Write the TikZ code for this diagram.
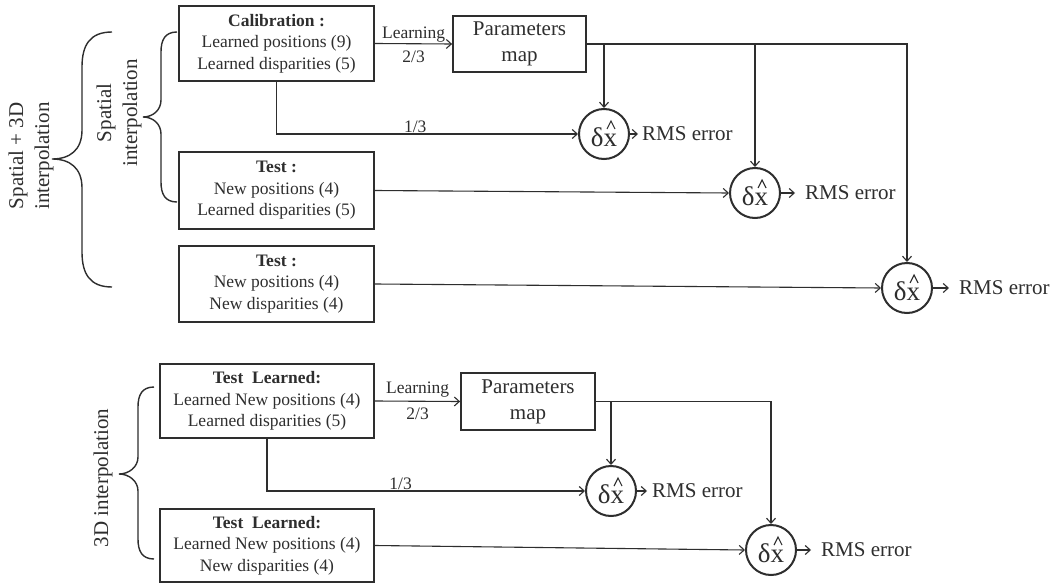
\documentclass[tikz,border=0pt]{standalone}
\usepackage{fontspec}
\setmainfont{Liberation Serif}
\usetikzlibrary{arrows.meta}
\definecolor{ink}{gray}{0.18}
\begin{document}
\begin{tikzpicture}[x=1pt,y=-1pt,
  every node/.style={text=ink},
  box/.style={draw=ink, line width=2.4pt, inner sep=0pt, align=center, font=\fontsize{17.5}{21.5}\selectfont},
  pbox/.style={draw=ink, line width=1.8pt, inner sep=0pt, align=center, font=\fontsize{21}{26}\selectfont},
  err/.style={draw=ink, line width=2pt, circle, minimum size=50pt, inner sep=0pt,
    text height=24pt, text depth=0pt, font=\fontsize{27}{30}\selectfont,
    path picture={\draw[ink, line width=1.1pt, line join=miter]
      ([shift={(3,-5)}]path picture bounding box.center) --
      ([shift={(7,-13)}]path picture bounding box.center) --
      ([shift={(11,-5)}]path picture bounding box.center);}},
  rms/.style={anchor=west, inner ysep=0pt, font=\fontsize{21}{24}\selectfont},
  lab/.style={font=\fontsize{17.5}{20}\selectfont, inner sep=1pt},
  conn/.style={draw=ink, line width=1.1pt, -{Straight Barb[length=5pt,width=9pt]}},
  brc/.style={draw=ink, line width=1.4pt},
  side/.style={rotate=90, align=center, inner sep=0pt, font=\fontsize{21}{26}\selectfont}
]
\useasboundingbox[fill=white] (0,0) rectangle (1054,586);

% ---------- upper part ----------
\node[box, minimum width=195, minimum height=75] (cal) at (276.5,43.5)
  {\textbf{Calibration :}\\Learned positions (9)\\Learned disparities (5)};
\node[box, minimum width=195, minimum height=77] (t1) at (276.5,190.5)
  {\textbf{Test :}\\New positions (4)\\Learned disparities (5)};
\node[box, minimum width=195, minimum height=76] (t2) at (276.5,284)
  {\textbf{Test :}\\New positions (4)\\New disparities (4)};
\node[pbox, minimum width=133, minimum height=56] (pm1) at (519.5,44) {Parameters\\map};
\node[err] (c1) at (604,134) {δx};
\node[err] (c2) at (755,193) {δx};
\node[err] (c3) at (907,288) {δx};
\node[rms, inner xsep=4pt] (r1) at ([xshift=8pt]c1.east) {RMS error};
\node[rms, inner xsep=10pt] (r2) at ([xshift=14pt]c2.east) {RMS error};
\node[rms, inner xsep=10pt] (r3) at ([xshift=16pt]c3.east) {RMS error};

\draw[conn] (cal.east) -- node[lab, above]{Learning} node[lab, below=6pt]{2/3} (pm1.west);
\draw[conn] (cal.south) |- node[lab, pos=0.73, above]{1/3} (c1.west);
\draw[conn] (pm1.east) -| (c3.north);
\draw[conn] (c1.north |- pm1.east) -- (c1.north);
\draw[conn] (c2.north |- pm1.east) -- (c2.north);
\draw[conn] (t1.east) -- (c2.west);
\draw[conn] (t2.east) -- (c3.west);
\draw[conn] (c1.east) -- (r1.west);
\draw[conn] (c2.east) -- (r2.west);
\draw[conn] (c3.east) -- (r3.west);

% braces upper
\draw[brc] (112,32) .. controls (90,32) and (82,45) .. (82,67) -- (82,130)
  .. controls (82,150) and (70,159) .. (52,159)
  .. controls (70,159) and (82,168) .. (82,188) -- (82,252)
  .. controls (82,274) and (90,287) .. (112,287);
\draw[brc] (177,32) .. controls (165,32) and (161,40) .. (161,52) -- (161,100)
  .. controls (161,110) and (153,117) .. (143,117)
  .. controls (153,117) and (161,124) .. (161,134) -- (161,182)
  .. controls (161,194) and (165,202) .. (177,202);
\node[side] (lout) at (31,156) {Spatial + 3D\\interpolation};
\node[side] (lin) at (119,113) {Spatial\\interpolation};

% ---------- lower part ----------
\node[box, minimum width=214, minimum height=74] (tl1) at (267,401)
  {\textbf{Test\ \ Learned:}\\Learned New positions (4)\\Learned disparities (5)};
\node[box, minimum width=214, minimum height=73] (tl2) at (267,545.5)
  {\textbf{Test\ \ Learned:}\\Learned New positions (4)\\New disparities (4)};
\node[pbox, minimum width=134, minimum height=57] (pm2) at (528,401.5) {Parameters\\map};
\node[err] (c4) at (611,491) {δx};
\node[err] (c5) at (771,550) {δx};
\node[rms, inner xsep=5pt] (r4) at ([xshift=10pt]c4.east) {RMS error};
\node[rms, inner xsep=10pt] (r5) at ([xshift=14pt]c5.east) {RMS error};

\draw[conn] (tl1.east) -- node[lab, above, yshift=2pt]{Learning} node[lab, below=5pt]{2/3} (pm2.west);
\draw[conn] (tl1.south) |- node[lab, pos=0.71, above]{1/3} (c4.west);
\draw[conn] (pm2.east) -| (c5.north);
\draw[conn] (c4.north |- pm2.east) -- (c4.north);
\draw[conn] (tl2.east) -- (c5.west);
\draw[conn] (c4.east) -- (r4.west);
\draw[conn] (c5.east) -- (r5.west);

\draw[brc] (154,387) .. controls (142,387) and (138,395) .. (138,407) -- (138,457)
  .. controls (138,467) and (129,474) .. (119,474)
  .. controls (129,474) and (138,481) .. (138,491) -- (138,539)
  .. controls (138,551) and (142,559) .. (154,559);
\node[side] (l3d) at (103,478) {3D interpolation};
\end{tikzpicture}
\end{document}
